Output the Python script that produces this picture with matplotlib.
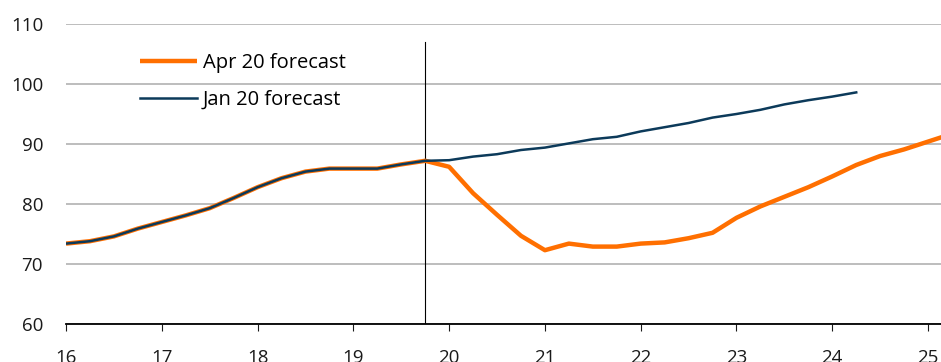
import matplotlib
matplotlib.use('Agg')
import matplotlib.pyplot as plt
import numpy as np

plt.rcParams['font.family'] = ['Open Sans', 'DejaVu Sans']

# quarterly index, x in years (16 = 2016Q1)
quarters = np.arange(16.0, 25.26, 0.25)

jan20 = [73.4, 73.8, 74.6, 75.9, 77.0, 78.1, 79.3, 81.0,
         82.8, 84.3, 85.4, 85.9, 85.9, 85.9, 86.6, 87.2,
         87.3, 87.9, 88.3, 89.0, 89.4, 90.1, 90.8, 91.2,
         92.1, 92.8, 93.5, 94.4, 95.0, 95.7, 96.6, 97.3,
         97.9, 98.6]

apr20 = [73.4, 73.8, 74.6, 75.9, 77.0, 78.1, 79.3, 81.0,
         82.8, 84.3, 85.4, 85.9, 85.9, 85.9, 86.6, 87.2,
         86.2, 81.8, 78.2, 74.7, 72.3, 73.4, 72.9, 72.9,
         73.4, 73.6, 74.3, 75.2, 77.7, 79.6, 81.2, 82.8,
         84.6, 86.5, 88.0, 89.1, 90.4, 91.7]

forecast_date = 19.75
year_ticks = list(range(16, 26))
y_ticks = [60, 70, 80, 90, 100, 110]

fig = plt.figure(figsize=(9.41, 3.62), dpi=100)
ax = fig.add_axes([66/941, 1 - 324/362, 1 - 66/941, 300/362])

ax.plot(quarters[:len(apr20)], apr20, color='#ff6f00', lw=3.2,
        label='Apr 20 forecast', solid_capstyle='butt', zorder=3)
ax.plot(quarters[:len(jan20)], jan20, color='#0c3a5a', lw=1.8,
        label='Jan 20 forecast', zorder=4)

ax.axvline(forecast_date, ymin=0, ymax=0.94, color='black', lw=0.8, zorder=2)

ax.set_xlim(16, 25.135)
ax.set_ylim(60, 110)
ax.set_xticks(year_ticks)
ax.set_yticks(y_ticks)
ax.yaxis.grid(True, color='#ababab', lw=1.1)
ax.set_axisbelow(True)

for s in ['top', 'right', 'left']:
    ax.spines[s].set_visible(False)
ax.spines['bottom'].set_linewidth(1.3)
ax.spines['bottom'].set_zorder(5)

ax.tick_params(axis='y', length=0, pad=16.5, labelsize=13.5, colors='#1a1a1a')
ax.tick_params(axis='x', length=5, width=0.8, direction='out', pad=13,
               labelsize=13.5, colors='#1a1a1a')

leg = ax.legend(loc='upper left', bbox_to_anchor=(0.064, 0.965), frameon=False,
                fontsize=14.5, handlelength=2.8, labelspacing=0.85,
                handletextpad=0.3)

fig.savefig('out.png', dpi=100)
